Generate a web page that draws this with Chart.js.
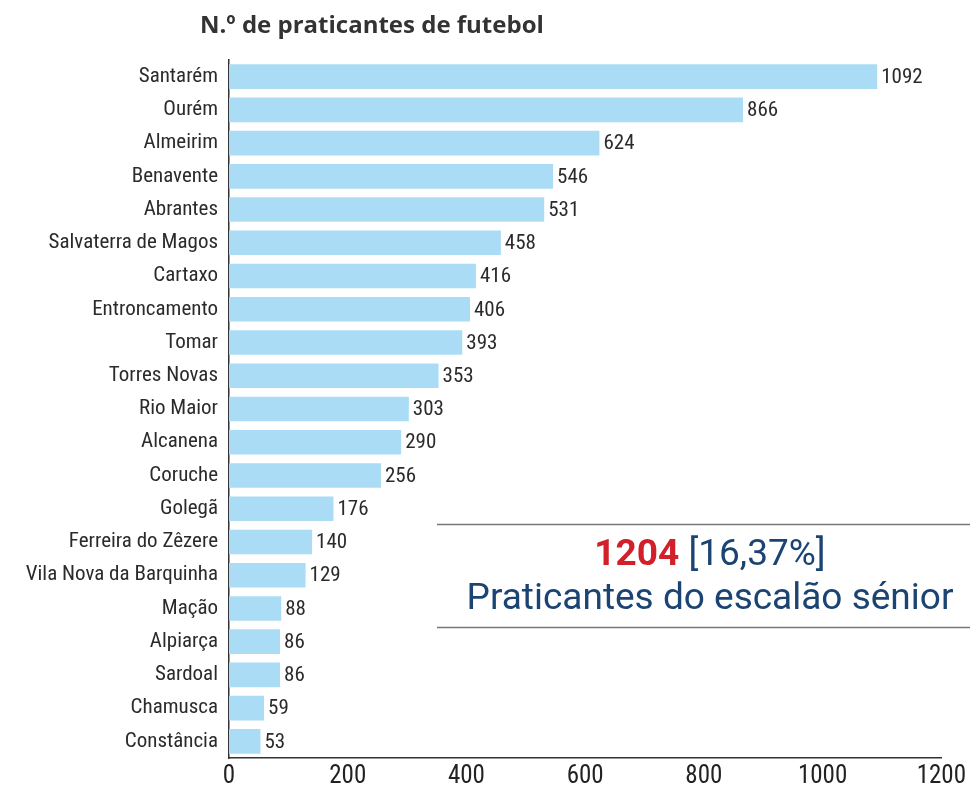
<!DOCTYPE html>
<html>
<head>
<meta charset="utf-8">
<script src="https://cdn.jsdelivr.net/npm/chart.js@4.4.0/dist/chart.umd.min.js"></script>
<style>
  html, body { margin: 0; padding: 0; background: #ffffff; }
  #wrap { width: 970px; height: 792px; position: relative; }
</style>
</head>
<body>
<div id="wrap"><canvas id="chart" width="970" height="792"></canvas></div>
<script>
// Data
const municipios = ['Santarém', 'Ourém', 'Almeirim', 'Benavente', 'Abrantes', 'Salvaterra de Magos',
    'Cartaxo', 'Entroncamento', 'Tomar', 'Torres Novas', 'Rio Maior', 'Alcanena', 'Coruche',
    'Golegã', 'Ferreira do Zêzere', 'Vila Nova da Barquinha', 'Mação', 'Alpiarça', 'Sardoal',
    'Chamusca', 'Constância'];
const praticantes = [1092, 866, 624, 546, 531, 458, 416, 406, 393, 353, 303, 290, 256,
    176, 140, 129, 88, 86, 86, 59, 53];
const xTicks = [0, 200, 400, 600, 800, 1000, 1200];

const chartTitle = 'N.º de praticantes de futebol';
const seniorCount = '1204';
const seniorPct = ' [16,37%]';
const seniorLabel = 'Praticantes do escalão sénior';

const narrow = '"Liberation Sans Narrow", "Roboto Condensed", "Arial Narrow", sans-serif';

// value labels at bar ends, title and the boxed note
const extras = {
    id: 'extras',
    afterDatasetsDraw(chart) {
        const ctx = chart.ctx;
        const meta = chart.getDatasetMeta(0);
        ctx.save();
        ctx.fillStyle = '#2b2b2b';
        ctx.font = '21px ' + narrow;
        ctx.textAlign = 'left';
        ctx.textBaseline = 'middle';
        meta.data.forEach((bar, i) => {
            ctx.fillText(String(praticantes[i]), bar.x + 4, bar.y + 1);
        });
        ctx.restore();
    },
    afterDraw(chart) {
        const ctx = chart.ctx;
        ctx.save();
        // title
        ctx.fillStyle = '#333333';
        ctx.font = 'bold 24px "Open Sans", "Noto Sans", sans-serif';
        ctx.textBaseline = 'middle';
        ctx.textAlign = 'left';
        ctx.fillText(chartTitle, 200, 26);

        // note box lines
        ctx.strokeStyle = '#777777';
        ctx.lineWidth = 1.5;
        ctx.beginPath();
        ctx.moveTo(437, 524.5); ctx.lineTo(970, 524.5);
        ctx.moveTo(437, 627.5); ctx.lineTo(970, 627.5);
        ctx.stroke();

        // note text
        const cx = 710;
        ctx.font = 'bold 37px "Roboto", sans-serif';
        const w1 = ctx.measureText(seniorCount).width;
        ctx.font = '37px "Roboto", sans-serif';
        const w2 = ctx.measureText(seniorPct).width;
        let x0 = cx - (w1 + w2) / 2;
        ctx.textAlign = 'left';
        ctx.font = 'bold 37px "Roboto", sans-serif';
        ctx.fillStyle = '#d2202a';
        ctx.fillText(seniorCount, x0, 556);
        ctx.font = '37px "Roboto", sans-serif';
        ctx.fillStyle = '#1b4473';
        ctx.fillText(seniorPct, x0 + w1, 556);
        ctx.textAlign = 'center';
        ctx.fillText(seniorLabel, cx, 600);
        ctx.restore();
    }
};

new Chart(document.getElementById('chart'), {
    type: 'bar',
    data: {
        labels: municipios,
        datasets: [{
            data: praticantes,
            backgroundColor: '#aadcf5',
            borderWidth: 0,
            categoryPercentage: 0.74,
            barPercentage: 1
        }]
    },
    options: {
        indexAxis: 'y',
        responsive: false,
        animation: false,
        layout: { padding: { top: 60, right: 26, left: 0, bottom: 0 } },
        plugins: {
            legend: { display: false },
            tooltip: { enabled: false }
        },
        scales: {
            x: {
                min: 0,
                max: 1200,
                afterBuildTicks: (axis) => { axis.ticks = xTicks.map(v => ({ value: v })); },
                afterFit: (axis) => { axis.height = 34; },
                grid: { display: false, drawTicks: false },
                border: { display: true, color: '#333333', width: 1.5 },
                ticks: {
                    color: '#222222',
                    font: { family: narrow, size: 25 },
                    padding: 4,
                    maxRotation: 0,
                    callback: (v) => String(v)
                }
            },
            y: {
                afterFit: (axis) => { axis.width = 229; },
                grid: { display: false, drawTicks: false },
                border: { display: true, color: '#333333', width: 1.5 },
                ticks: {
                    color: '#2b2b2b',
                    font: { family: narrow, size: 21 },
                    padding: 11,
                    autoSkip: false
                }
            }
        }
    },
    plugins: [extras]
});
</script>
</body>
</html>
